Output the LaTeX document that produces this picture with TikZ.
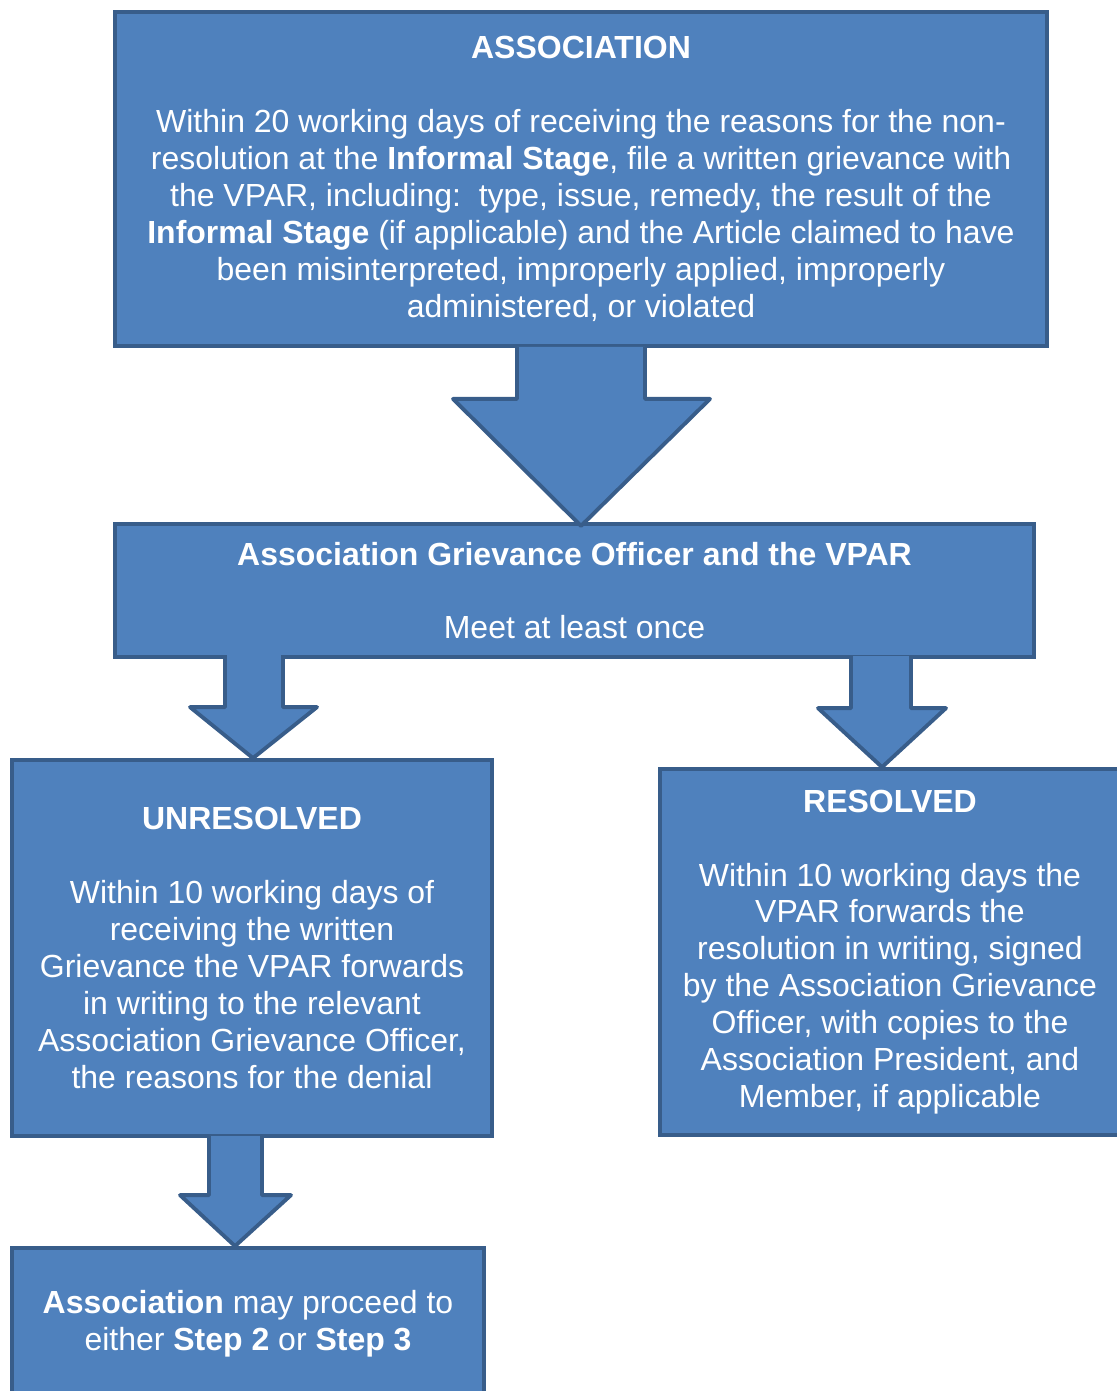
\documentclass[tikz,border=0pt]{standalone}
\usepackage{fontspec}
\setmainfont{Liberation Sans}
\definecolor{boxfill}{HTML}{4F81BD}
\definecolor{boxline}{HTML}{385D8A}

\begin{document}
\begin{tikzpicture}[x=0.02cm,y=-0.02cm,
		box/.style={rectangle,draw=boxline,fill=boxfill,line width=2.2pt,text=white,align=center,
			font=\fontsize{18.2}{21}\selectfont,inner sep=0pt},
		bigarrow/.style={draw=boxline,fill=boxfill,line width=2.2pt,line join=round}]
		\useasboundingbox (0,0) rectangle (1116,1391);
		% kaders
		\node[box,minimum width=18.64cm,minimum height=6.68cm] (assoc) at (581,179)
			{\textbf{ASSOCIATION}\\[21pt]
			Within 20 working days of receiving the reasons for the non-\\
			resolution at the \textbf{Informal Stage}, file a written grievance with\\
			the VPAR, including:\ \ type, issue, remedy, the result of the\\
			\textbf{Informal Stage} (if applicable) and the Article claimed to have\\
			been misinterpreted, improperly applied, improperly\\
			administered, or violated};
		\node[box,minimum width=18.38cm,minimum height=2.66cm] (meet) at (574.5,590.5)
			{\textbf{Association Grievance Officer and the VPAR}\\[21pt]
			Meet at least once};
		\node[box,minimum width=9.6cm,minimum height=7.52cm] (unres) at (252,948)
			{\textbf{UNRESOLVED}\\[21pt]
			Within 10 working days of\\
			receiving the written\\
			Grievance the VPAR forwards\\
			in writing to the relevant\\
			Association Grievance Officer,\\
			the reasons for the denial};
		\node[box,minimum width=9.2cm,minimum height=7.32cm] (res) at (890,952)
			{\textbf{RESOLVED}\\[21pt]
			Within 10 working days the\\
			VPAR forwards the\\
			resolution in writing, signed\\
			by the Association Grievance\\
			Officer, with copies to the\\
			Association President, and\\
			Member, if applicable};
		\node[box,minimum width=9.44cm,minimum height=3.04cm] (steps) at (248,1324)
			{\textbf{Association} may proceed to\\
			either \textbf{Step 2} or \textbf{Step 3}};
		
		% pijlen
		\path[bigarrow,shift={(assoc.south)}]
			(-64,-1) -- (-64,51) -- (-128,51) -- (0,178) -- (129,51) -- (64,51) -- (64,-1);
		\path[bigarrow,shift={(unres.north)}]
			(-27,-103) -- (-27,-51) -- (-62,-51) -- (1,0) -- (65,-51) -- (31,-51) -- (31,-103);
		\path[bigarrow,shift={(res.north)}]
			(-39,-111) -- (-39,-59) -- (-72,-59) -- (-8,0) -- (56,-59) -- (21,-59) -- (21,-111);
		\path[bigarrow,shift={(steps.north)}]
			(-39,-110) -- (-39,-51) -- (-68,-51) -- (-13,0) -- (43,-51) -- (14,-51) -- (14,-110);
		
\end{tikzpicture}
\end{document}
